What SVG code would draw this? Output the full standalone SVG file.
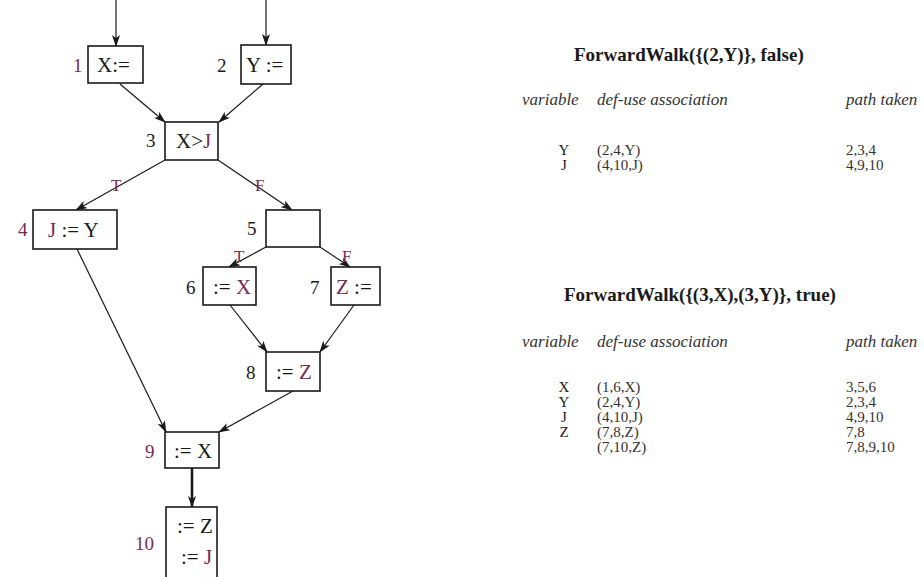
<svg xmlns="http://www.w3.org/2000/svg" width="924" height="577" viewBox="0 0 924 577">
<defs>
<style>
.box{fill:#fff;stroke:#1a1a1a;stroke-width:1.6}
.lbl{font-family:"Liberation Serif",serif;font-size:21px;fill:#1a1a1a}
.num{font-family:"Liberation Serif",serif;font-size:19px;fill:#1a1a1a}
.tf{font-family:"Liberation Serif",serif;font-size:17px;fill:#7a2a52}
.acc{fill:#7a2a52}
.edge{stroke:#1a1a1a;stroke-width:1.2;fill:none;marker-end:url(#ah)}
.tl{font-family:"Liberation Serif",serif;font-size:19px;font-weight:bold;fill:#1a1a1a}
.hd{font-family:"Liberation Serif",serif;font-size:17px;font-style:italic;fill:#333}
.td{font-family:"Liberation Serif",serif;font-size:15px;fill:#333}
.tv{font-family:"Liberation Serif",serif;font-size:15px;fill:#1a1a1a;text-anchor:middle}
</style>
<marker id="ah" markerWidth="12" markerHeight="8" refX="11" refY="4" orient="auto" markerUnits="userSpaceOnUse">
<path d="M0,0 L12,4 L0,8 L3,4 z" fill="#1a1a1a"/>
</marker>
</defs>
<rect width="924" height="577" fill="#fff"/>
<g id="connectors">
<line class="edge" x1="116" y1="0" x2="116" y2="46"/>
<line class="edge" x1="266" y1="0" x2="266" y2="45"/>
<line class="edge" x1="120" y1="84" x2="165" y2="122"/>
<line class="edge" x1="263" y1="84" x2="219" y2="122"/>
<line class="edge" x1="165" y1="160" x2="76" y2="210"/>
<line class="edge" x1="218" y1="160" x2="292" y2="210"/>
<line class="edge" x1="266" y1="247" x2="229" y2="267"/>
<line class="edge" x1="320" y1="247" x2="350" y2="267"/>
<line class="edge" x1="77" y1="249" x2="166" y2="432"/>
<line class="edge" x1="230" y1="305" x2="267" y2="352"/>
<line class="edge" x1="354" y1="305" x2="320" y2="352"/>
<line class="edge" x1="293" y1="391" x2="219" y2="432"/>
<line class="edge" x1="192" y1="468" x2="192" y2="507" style="stroke-width:2.6"/>
<text class="tf" x="111" y="191">T</text>
<text class="tf" x="255" y="191">F</text>
<text class="tf" x="234" y="262">T</text>
<text class="tf" x="342" y="262">F</text>
</g>
<g id="node1">
<rect class="box" x="88" y="46" width="55" height="37"/>
<text class="lbl" x="97" y="72">X:=</text>
<text class="num acc" x="73" y="72">1</text>
</g>
<g id="node2">
<rect class="box" x="241" y="45" width="50" height="39"/>
<text class="lbl" x="246" y="72">Y :=</text>
<text class="num" x="217" y="72">2</text>
</g>
<g id="node3">
<rect class="box" x="165" y="122" width="53" height="38"/>
<text class="lbl" x="176" y="148">X&gt;<tspan class="acc">J</tspan></text>
<text class="num" x="146" y="147">3</text>
</g>
<g id="node4">
<rect class="box" x="33" y="210" width="84" height="39"/>
<text class="lbl" x="48" y="237"><tspan class="acc">J</tspan> := Y</text>
<text class="num acc" x="18" y="236">4</text>
</g>
<g id="node5">
<rect class="box" x="266" y="210" width="54" height="37"/>
<text class="num" x="247" y="235">5</text>
</g>
<g id="node6">
<rect class="box" x="203" y="267" width="53" height="38"/>
<text class="lbl" x="213" y="294">:= <tspan class="acc">X</tspan></text>
<text class="num" x="186" y="294">6</text>
</g>
<g id="node7">
<rect class="box" x="331" y="267" width="49" height="38"/>
<text class="lbl" x="336" y="294"><tspan class="acc">Z</tspan> :=</text>
<text class="num" x="310" y="294">7</text>
</g>
<g id="node8">
<rect class="box" x="266" y="352" width="54" height="39"/>
<text class="lbl" x="276" y="379">:= <tspan class="acc">Z</tspan></text>
<text class="num" x="246" y="379">8</text>
</g>
<g id="node9">
<rect class="box" x="165" y="432" width="54" height="36"/>
<text class="lbl" x="174" y="458">:= X</text>
<text class="num acc" x="145" y="458">9</text>
</g>
<g id="node10">
<rect class="box" x="166" y="507" width="51" height="72"/>
<text class="lbl" x="177" y="533">:= Z</text>
<text class="lbl" x="181" y="564">:= <tspan class="acc">J</tspan></text>
<text class="num acc" x="135" y="550">10</text>
</g>
<g id="table1">
<text class="tl" x="574" y="61">ForwardWalk({(2,Y)}, false)</text>
<text class="hd" x="522" y="105">variable</text>
<text class="hd" x="597" y="105">def-use association</text>
<text class="hd" x="846" y="105">path taken</text>
<text class="tv" x="564" y="155">Y</text>
<text class="td" x="597" y="155">(2,4,Y)</text>
<text class="td" x="846" y="155">2,3,4</text>
<text class="tv acc" x="564" y="170">J</text>
<text class="td" x="597" y="170">(4,10,J)</text>
<text class="td" x="846" y="170">4,9,10</text>
</g>
<g id="table2">
<text class="tl" x="564" y="301">ForwardWalk({(3,X),(3,Y)}, true)</text>
<text class="hd" x="522" y="347">variable</text>
<text class="hd" x="597" y="347">def-use association</text>
<text class="hd" x="846" y="347">path taken</text>
<text class="tv" x="564" y="392">X</text>
<text class="td" x="597" y="392">(1,6,X)</text>
<text class="td" x="846" y="392">3,5,6</text>
<text class="tv" x="564" y="407">Y</text>
<text class="td" x="597" y="407">(2,4,Y)</text>
<text class="td" x="846" y="407">2,3,4</text>
<text class="tv acc" x="564" y="422">J</text>
<text class="td" x="597" y="422">(4,10,J)</text>
<text class="td" x="846" y="422">4,9,10</text>
<text class="tv" x="564" y="437">Z</text>
<text class="td" x="597" y="437">(7,8,Z)</text>
<text class="td" x="846" y="437">7,8</text>
<text class="td" x="597" y="452">(7,10,Z)</text>
<text class="td" x="846" y="452">7,8,9,10</text>
</g>
</svg>
